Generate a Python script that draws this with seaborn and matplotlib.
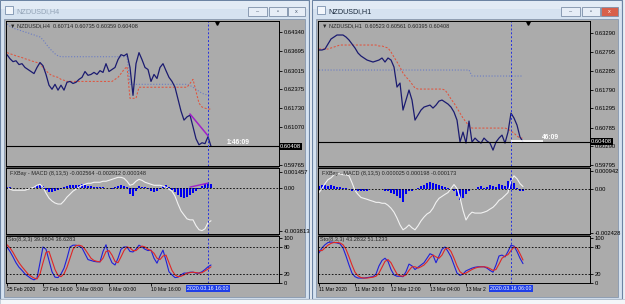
import numpy as np
import matplotlib
matplotlib.use('Agg')
import matplotlib.pyplot as plt
import matplotlib.transforms as mtrans
from matplotlib.patches import Rectangle
import seaborn as sns

sns.set_style('white')
plt.rcParams['font.family'] = ['Liberation Sans', 'DejaVu Sans']

# ── NZDUSD H4 ───────────────────────────────────────────────
h4_close = [0.6356, 0.6342, 0.6332, 0.6335, 0.6322, 0.6325, 0.6312, 0.6305, 0.6298, 0.6291,
            0.6312, 0.6329, 0.6318, 0.6288, 0.6251, 0.6237, 0.6254, 0.6234, 0.6251, 0.6234,
            0.6261, 0.6264, 0.6257, 0.6261, 0.6271, 0.6278, 0.6298, 0.6285, 0.6288, 0.6295,
            0.6288, 0.6301, 0.6295, 0.6325, 0.6298, 0.6305, 0.6312, 0.6339, 0.6356, 0.6352,
            0.6359, 0.6312, 0.6216, 0.6325, 0.6363, 0.6339, 0.6312, 0.6305, 0.6264, 0.6288,
            0.6274, 0.6312, 0.6325, 0.6301, 0.6278, 0.6264, 0.6244, 0.6203, 0.6162, 0.6131,
            0.6142, 0.6148, 0.6108, 0.6067, 0.6046, 0.6053, 0.6050, 0.6074, 0.60408]
h4_red = [0.6363, 0.6359, 0.6356, 0.6352, 0.6349, 0.6346, 0.6342, 0.6339, 0.6335, 0.6332,
          0.6329, 0.6325, 0.6312, 0.6301, 0.6291, 0.6284, 0.6281, 0.6278, 0.6271, 0.6268,
          0.6264, 0.6264, 0.6264, 0.6264, 0.6264, 0.6264, 0.6264, 0.6264, 0.6264, 0.6264,
          0.6264, 0.6264, 0.6264, 0.6264, 0.6264, 0.6264, 0.6271, 0.6278, 0.6291, 0.6305,
          0.6315, 0.6206, 0.6206, 0.6206, 0.6244, 0.6244, 0.6244, 0.6244, 0.6244, 0.6244,
          0.6244, 0.6244, 0.6244, 0.6244, 0.6244, 0.6244, 0.6244, 0.6244, 0.6244, 0.6244,
          0.6244, 0.6257, 0.6271, 0.6230, 0.6189, 0.6176, 0.6172, 0.6169, 0.6169]
h4_blue = [0.6461, 0.6454, 0.6448, 0.6444, 0.6441, 0.6437, 0.6434, 0.6431, 0.6427, 0.6424,
           0.6420, 0.6417, 0.6407, 0.6393, 0.6380, 0.6369, 0.6359, 0.6352, 0.6349, 0.6349,
           0.6349, 0.6349, 0.6349, 0.6349, 0.6349, 0.6349, 0.6349, 0.6349, 0.6349, 0.6349,
           0.6349, 0.6349, 0.6349, 0.6349, 0.6349, 0.6349, 0.6349, 0.6349, 0.6349, 0.6349,
           0.6349, 0.6254, 0.6254, 0.6254, 0.6254, 0.6254, 0.6254, 0.6254, 0.6254, 0.6254,
           0.6254, 0.6254, 0.6254, 0.6254, 0.6254, 0.6254, 0.6254, 0.6254, 0.6254, 0.6254,
           0.6254, 0.6250, 0.6244, 0.6237, 0.6230, 0.6223, 0.6220, 0.6216, 0.6216]
h4_signal = [0.0, -0.00009, -0.00018, -0.00018, -0.00018, -0.00018, -0.00018, -0.00009, 0.0, 0.00009,
             0.00026, 0.00035, 0.00009, -0.00044, -0.00088, -0.00114, -0.00132, -0.00141, -0.00141, -0.00114,
             -0.00079, -0.00053, -0.00026, -0.00009, 0.00009, 0.00026, 0.00035, 0.00044, 0.00044, 0.00053,
             0.00053, 0.00053, 0.00062, 0.00062, 0.0007, 0.00079, 0.00088, 0.00097, 0.00097, 0.00088,
             0.00062, 0.00026, 0.00035, 0.00062, 0.00079, 0.0007, 0.00053, 0.00044, 0.00035, 0.00026,
             0.00026, 0.00026, 0.00018, 0.00009, -0.00009, -0.00026, -0.0007, -0.00141, -0.00202, -0.00238,
             -0.00273, -0.00282, -0.00282, -0.00334, -0.0037, -0.00378, -0.00361, -0.00308, -0.0029]
h4_hist = [0.00009, 0.00009, 0.00004, 0.00004, 0.00004, 0.00004, 0.00004, 0.00004, 0.00004, 0.00009,
           0.00026, 0.00026, 0.00018, -0.00018, -0.00035, -0.00035, -0.00026, -0.00018, -0.00009, 0.00009,
           0.00018, 0.00026, 0.00026, 0.00026, 0.00026, 0.00035, 0.00026, 0.00018, 0.00018, 0.00009,
           0.00009, 0.00009, 0.00009, 0.00004, 0.00004, -0.00004, 0.00009, 0.00018, 0.00026, 0.00018,
           0.00009, -0.00053, -0.0007, -0.00026, 0.00018, 0.00009, 0.00009, -0.00009, -0.00026, -0.00035,
           -0.00026, -0.00009, 0.00018, 0.00026, 0.00009, -0.00018, -0.00035, -0.00062, -0.00079, -0.00088,
           -0.00079, -0.00062, -0.00044, -0.00026, -0.00009, 0.00018, 0.00035, 0.00044, 0.00035]
h4_k = [80, 70, 58, 45, 35, 28, 20, 15, 10, 7,
        11, 45, 80, 75, 50, 25, 13, 12, 20, 33,
        55, 80, 84, 84, 82, 78, 65, 52, 50, 48,
        47, 47, 70, 85, 60, 45, 40, 55, 75, 80,
        80, 70, 69, 75, 84, 80, 75, 72, 73, 55,
        44, 60, 73, 50, 25, 18, 12, 13, 18, 22,
        22, 24, 24, 22, 22, 25, 30, 36, 40]
h4_d = [85, 78, 68, 56, 45, 36, 28, 20, 15, 11,
        9, 20, 45, 68, 70, 50, 30, 17, 14, 20,
        35, 55, 75, 83, 84, 82, 75, 65, 55, 50,
        48, 47, 55, 70, 72, 62, 48, 45, 58, 72,
        80, 78, 72, 72, 78, 82, 80, 75, 72, 66,
        55, 52, 60, 62, 45, 28, 18, 14, 15, 18,
        22, 23, 24, 23, 22, 23, 27, 31, 36]
h4_trend_x = [61, 67]
h4_trend_price = [0.6152, 0.6077]
h4_trend_macd = [0.0001, 0.00045]
h4_price_ticks = [0.64340, 0.63695, 0.63015, 0.62375, 0.61730, 0.61070, 0.59765]
h4_macd_ticks = [0.001457, 0.0, -0.003813]
h4_date_pos = [0, 12, 23, 34, 48]
h4_dates = ['25 Feb 2020', '27 Feb 16:00', '3 Mar 08:00', '6 Mar 00:00', '10 Mar 16:00']

# ── NZDUSD H1 ───────────────────────────────────────────────
h1_close = [0.62840, 0.62840, 0.62866, 0.62999, 0.63131, 0.63184, 0.63237, 0.63237, 0.63237, 0.63184,
            0.63105, 0.62999, 0.62893, 0.62760, 0.62681, 0.62628, 0.62575, 0.62548, 0.62522, 0.62548,
            0.62575, 0.62628, 0.62522, 0.62628, 0.62575, 0.62389, 0.61859, 0.61965, 0.61250, 0.61515,
            0.61780, 0.61515, 0.60985, 0.61117, 0.61250, 0.61329, 0.61356, 0.61382, 0.61303, 0.61382,
            0.61488, 0.61515, 0.61462, 0.61409, 0.61329, 0.61197, 0.60985, 0.60402, 0.60667, 0.60375,
            0.60958, 0.60402, 0.60508, 0.60428, 0.60375, 0.60508, 0.60428, 0.60375, 0.60190, 0.60402,
            0.60508, 0.60587, 0.60375, 0.60667, 0.61170, 0.61038, 0.60852, 0.60534, 0.60408]
h1_red = [0.62866, 0.62866, 0.62866, 0.62866, 0.62893, 0.62919, 0.62946, 0.62972, 0.62972, 0.62972,
          0.62972, 0.62972, 0.62972, 0.62972, 0.62972, 0.62972, 0.62972, 0.62972, 0.62972, 0.62972,
          0.62946, 0.62946, 0.62919, 0.62893, 0.62787, 0.62654, 0.62522, 0.62389, 0.62230, 0.62124,
          0.62045, 0.61939, 0.61833, 0.61806, 0.61806, 0.61806, 0.61806, 0.61806, 0.61806, 0.61806,
          0.61806, 0.61806, 0.61780, 0.61674, 0.61541, 0.61435, 0.61303, 0.61170, 0.61038, 0.60932,
          0.60826, 0.60773, 0.60773, 0.60773, 0.60773, 0.60773, 0.60773, 0.60773, 0.60773, 0.60773,
          0.60773, 0.60773, 0.60773, 0.60746, 0.60693, 0.60640, 0.60561, 0.60508, 0.60508]
h1_blue = [0.6231, 0.6231, 0.6231, 0.6231, 0.6231, 0.6231, 0.6231, 0.6231, 0.6231, 0.6231,
           0.6231, 0.6231, 0.6231, 0.6231, 0.6231, 0.6231, 0.6231, 0.6231, 0.6231, 0.6231,
           0.6231, 0.6231, 0.6231, 0.6231, 0.6231, 0.6231, 0.6231, 0.6231, 0.6231, 0.6231,
           0.6231, 0.6231, 0.6231, 0.6231, 0.6231, 0.6231, 0.6231, 0.6231, 0.6231, 0.6231,
           0.6231, 0.6231, 0.6231, 0.6231, 0.6231, 0.6231, 0.6231, 0.6231, 0.6231, 0.6231,
           0.6231, 0.62151, 0.62151, 0.62151, 0.62151, 0.62151, 0.62151, 0.62151, 0.62151, 0.62151,
           0.62151, 0.62151, 0.62151, 0.62151, 0.62151, 0.62151, 0.62151, 0.62151, 0.62151]
h1_signal = [-0.00022, 0.0, 0.00027, 0.00049, 0.00059, 0.00076, 0.00081, 0.00081, 0.00076, 0.00076,
             0.0007, 0.00032, -0.00011, -0.00032, -0.00049, -0.00054, -0.00059, -0.00065, -0.0007, -0.00076,
             -0.00076, -0.00081, -0.00081, -0.00092, -0.00108, -0.0013, -0.00162, -0.002, -0.00227, -0.00216,
             -0.002, -0.00216, -0.00227, -0.00205, -0.00178, -0.00157, -0.0014, -0.0013, -0.00108, -0.00076,
             -0.00054, -0.00043, -0.00032, -0.00022, 0.0, 0.00022, 0.0, -0.00049, -0.0012, -0.00173,
             -0.00146, -0.0013, -0.00135, -0.00135, -0.00135, -0.0013, -0.00124, -0.00113, -0.00103, -0.00086,
             -0.00065, -0.00054, -0.00038, -0.00022, 0.00043, 0.0007, 0.00054, 0.00027, 0.00011]
h1_hist = [0.00016, 0.00022, 0.00022, 0.00016, 0.00022, 0.00016, 0.00011, 0.00011, 0.00005, 0.00003,
           -0.00005, -0.00011, -0.00016, -0.00016, -0.00016, -0.00011, -0.00011, -0.00005, -0.00005, -0.00003,
           -0.00005, -0.00005, -0.00011, -0.00016, -0.00022, -0.00032, -0.00043, -0.00054, -0.00076, -0.00032,
           -0.00011, -0.00016, -0.00005, 0.00005, 0.00016, 0.00022, 0.00032, 0.00038, 0.00032, 0.00027,
           0.00022, 0.00016, 0.00011, 0.00005, -0.00005, -0.00016, -0.00043, -0.00065, -0.00054, -0.00032,
           -0.00011, -0.00005, -0.00005, 0.00011, 0.00016, 0.00005, 0.00011, 0.00022, 0.00016, 0.00011,
           0.00027, 0.00022, 0.00016, 0.00043, 0.00059, 0.00032, 0.00005, -0.00011, -0.00016]
h1_k = [67, 78, 85, 90, 91, 90, 89, 87, 78, 60,
        40, 22, 14, 11, 11, 11, 12, 13, 14, 20,
        38, 50, 55, 48, 30, 18, 15, 15, 14, 25,
        42, 38, 30, 35, 40, 45, 55, 65, 62, 45,
        60, 75, 80, 70, 58, 40, 22, 17, 20, 27,
        30, 33, 35, 36, 36, 36, 33, 28, 24, 40,
        60, 62, 58, 70, 84, 82, 70, 55, 43]
h1_d = [72, 72, 78, 84, 88, 90, 90, 89, 85, 75,
        58, 40, 24, 16, 12, 11, 11, 12, 13, 15,
        22, 35, 48, 52, 45, 32, 20, 16, 15, 18,
        28, 36, 36, 33, 36, 40, 47, 56, 62, 58,
        55, 62, 75, 78, 70, 55, 38, 25, 20, 22,
        26, 30, 33, 35, 36, 36, 35, 32, 28, 30,
        42, 55, 60, 63, 72, 80, 78, 65, 51]
h1_price_ticks = [0.63290, 0.62795, 0.62285, 0.61790, 0.61295, 0.60785, 0.60290, 0.59795]
h1_macd_ticks = [0.000942, 0.0, -0.002428]
h1_date_pos = [0, 12, 24, 37, 49]
h1_dates = ['11 Mar 2020', '11 Mar 20:00', '12 Mar 12:00', '13 Mar 04:00', '13 Mar 2']

W, H = 625, 304
BG = '#ababab'

windows = [
    dict(win=(0, 309), chart=(6, 279), active=False, title='NZDUSDi,H4',
         ohlc='0.60714 0.60735 0.60359 0.60408',
         macd_txt='FXBay - MACD (8,13,5) -0.002564 -0.002912 0.000348',
         sto_txt='Sto(8,3,3) 39.9804 36.6283',
         close=h4_close, red=h4_red, blue=h4_blue, signal=h4_signal, hist=h4_hist,
         k=h4_k, d=h4_d, price_lim=(0.59731, 0.64718), macd_lim=(-0.00408, 0.0018),
         price_ticks=h4_price_ticks, macd_ticks=h4_macd_ticks,
         date_pos=h4_date_pos, dates=h4_dates, cursor=67, cursor_date='2020.03.16 16:00',
         timer='1:46:09', trend=True, timer_bar=False),
    dict(win=(312, 622), chart=(318, 590), active=True, title='NZDUSDi,H1',
         ohlc='0.60523 0.60561 0.60395 0.60408',
         macd_txt='FXBay - MACD (8,13,5) 0.000025 0.000198 -0.000173',
         sto_txt='Sto(8,3,3) 43.2832 51.1233',
         close=h1_close, red=h1_red, blue=h1_blue, signal=h1_signal, hist=h1_hist,
         k=h1_k, d=h1_d, price_lim=(0.59769, 0.63608), macd_lim=(-0.0025, 0.00113),
         price_ticks=h1_price_ticks, macd_ticks=h1_macd_ticks,
         date_pos=h1_date_pos, dates=h1_dates, cursor=64, cursor_date='2020.03.16 06:00',
         timer='46:09', trend=False, timer_bar=True),
]

fig = plt.figure(figsize=(W / 100, H / 100), dpi=100)
fig.patch.set_facecolor('#e9eef4')


def box(x0, y0, x1, y1, fc, ec='none', lw=0.0, z=-5):
    fig.add_artist(Rectangle((x0 / W, 1 - y1 / H), (x1 - x0) / W, (y1 - y0) / H,
                             transform=fig.transFigure, facecolor=fc, edgecolor=ec,
                             linewidth=lw, zorder=z))


def panel(x0, y0, x1, y1):
    ax = fig.add_axes([x0 / W, 1 - y1 / H, (x1 - x0) / W, (y1 - y0) / H])
    ax.set_facecolor(BG)
    for s in ax.spines.values():
        s.set_color('black')
        s.set_linewidth(0.7)
    ax.yaxis.tick_right()
    ax.tick_params(axis='y', left=False, right=True, length=2, width=0.6, pad=1.5,
                   labelsize=4.2, colors='black')
    ax.tick_params(axis='x', bottom=False, labelbottom=False)
    ax.set(xlabel='', ylabel='')
    return ax


def draw_window(w):
    wx0, wx1 = w['win']
    cx0, cx1 = w['chart']
    xs = np.arange(len(w['close']))
    xlim = (-1 / 3, (cx1 - cx0) / 3 - 1 / 3)
    last = w['close'][-1]

    # window frame, title bar, client area
    box(wx0, 0, wx1, 299, '#d5e2f0', '#6c84a3', 0.8)
    box(wx0 + 1, 1, wx1 - 1, 9, '#e2ebf5')
    box(wx0 + 4, 19, wx1 - 4, 297, BG, '#8697ad', 0.6)
    box(wx0 + 5, 6, wx0 + 13, 14, '#f2f6fb', '#7a91ae', 0.6)
    fig.text((wx0 + 16) / W, 1 - 11.5 / H, w['title'], fontsize=5.2, va='center',
             color='#1b2a3c' if w['active'] else '#93a3b6')
    btns = [(wx1 - 61, wx1 - 42), (wx1 - 40, wx1 - 22), (wx1 - 21, wx1 - 4)]
    for i, (b0, b1) in enumerate(btns):
        red_btn = w['active'] and i == 2
        box(b0, 7, b1, 16, '#d8604b' if red_btn else '#e6edf6', '#7d8fa8', 0.6, z=-4)
        fig.text((b0 + b1) / 2 / W, 1 - 11.5 / H, ['–', '▫', 'x'][i], fontsize=4,
                 ha='center', va='center', color='white' if red_btn else '#4a5a70')
    box(cx0, 166, cx1, 168, '#4a4a4a', z=-3)
    box(cx0, 234, cx1, 236, '#4a4a4a', z=-3)

    # main price panel
    ax = panel(cx0, 21, cx1, 166)
    sns.lineplot(x=xs, y=w['blue'], ax=ax, color='#6b7cc4', linewidth=0.8,
                 linestyle=(0, (1, 1.6)))
    sns.lineplot(x=xs, y=w['red'], ax=ax, color='#e0543e', linewidth=0.75,
                 linestyle=(0, (2, 1.6)))
    sns.lineplot(x=xs, y=w['close'], ax=ax, color='#1b1b70', linewidth=0.9)
    if w['trend']:
        sns.lineplot(x=h4_trend_x, y=h4_trend_price, ax=ax, color='#a020c8', linewidth=1.1)
    ax.axhline(last, color='black', linewidth=0.8)
    ax.axvline(w['cursor'], color='#2430e0', linewidth=0.7, linestyle=(0, (2, 2)))
    if w['timer_bar']:
        ax.hlines(last + 0.0001, w['cursor'], w['cursor'] + 10.5, color='white', linewidth=1.2)
    ax.text(77, last + 0.0001, w['timer'], color='white', fontweight='bold', fontsize=4.8,
            ha='center', va='bottom')
    ax.set_xlim(*xlim)
    ax.set_ylim(*w['price_lim'])
    ax.set_yticks(w['price_ticks'])
    ax.set_yticklabels([f'{v:.5f}' for v in w['price_ticks']])
    ax.set(xlabel='', ylabel='')
    blend = mtrans.blended_transform_factory(ax.transAxes, ax.transData)
    ax.text(1.004, last, f'{last:.5f}', transform=blend, fontsize=4.2, color='white',
            ha='left', va='center', clip_on=False,
            bbox=dict(boxstyle='square,pad=0.15', fc='black', ec='none'))
    ax.text(0.014, 0.985, '▼ ' + w['title'] + '  ' + w['ohlc'],
            transform=ax.transAxes, fontsize=4, va='top', ha='left')
    ax.plot([1 - 62 / (cx1 - cx0)], [0.985], marker='v', markersize=2.6, color='black',
            transform=ax.transAxes, clip_on=False)

    # MACD panel
    ax2 = panel(cx0, 168, cx1, 234)
    ax2.bar(xs, w['hist'], width=0.8, color='#0000f0', linewidth=0)
    sns.lineplot(x=xs, y=w['signal'], ax=ax2, color='#f2f2f2', linewidth=0.8)
    if w['trend']:
        sns.lineplot(x=h4_trend_x, y=h4_trend_macd, ax=ax2, color='#a020c8', linewidth=1.0)
    ax2.axhline(0, color='black', linewidth=0.6, linestyle=(0, (2, 2)))
    ax2.axvline(w['cursor'], color='#2430e0', linewidth=0.7, linestyle=(0, (2, 2)))
    ax2.set_xlim(*xlim)
    ax2.set_ylim(*w['macd_lim'])
    ax2.set_yticks(w['macd_ticks'])
    ax2.set_yticklabels(['0.00' if v == 0 else f'{v:.6f}' for v in w['macd_ticks']])
    ax2.set(xlabel='', ylabel='')
    ax2.text(0.014, 0.96, w['macd_txt'], transform=ax2.transAxes, fontsize=4, va='top')

    # Stochastic panel
    ax3 = panel(cx0, 236, cx1, 283)
    sns.lineplot(x=xs, y=w['k'], ax=ax3, color='#2020d8', linewidth=0.8)
    sns.lineplot(x=xs, y=w['d'], ax=ax3, color='#e02626', linewidth=0.8)
    for lvl in (80, 20):
        ax3.axhline(lvl, color='black', linewidth=0.6, linestyle=(0, (2, 2)))
    ax3.axvline(w['cursor'], color='#2430e0', linewidth=0.7, linestyle=(0, (2, 2)))
    ax3.set_xlim(*xlim)
    ax3.set_ylim(0, 104.4)
    ax3.set_yticks([100, 80, 20, 0])
    ax3.set_yticklabels(['100', '80', '20', '0'])
    ax3.set_xticks(w['date_pos'])
    ax3.set_xticklabels(w['dates'], ha='left')
    ax3.tick_params(axis='x', bottom=True, labelbottom=True, length=2, width=0.6, pad=1,
                    labelsize=3.6, colors='black')
    ax3.set(xlabel='', ylabel='')
    ax3.text(0.008, 0.97, w['sto_txt'], transform=ax3.transAxes, fontsize=4, va='top')
    blend3 = mtrans.blended_transform_factory(ax3.transData, ax3.transAxes)
    ax3.text(w['cursor'], -0.07, w['cursor_date'], transform=blend3, fontsize=3.8,
             color='white', ha='center', va='top', clip_on=False, zorder=10,
             bbox=dict(boxstyle='square,pad=0.2', fc='#1f3fe8', ec='none'))


for w in windows:
    draw_window(w)

box(0, 299, W, H, '#f4f6f9', '#b4bfcc', 0.5, z=-4)

plt.savefig('out.png', dpi=100)
plt.close()
